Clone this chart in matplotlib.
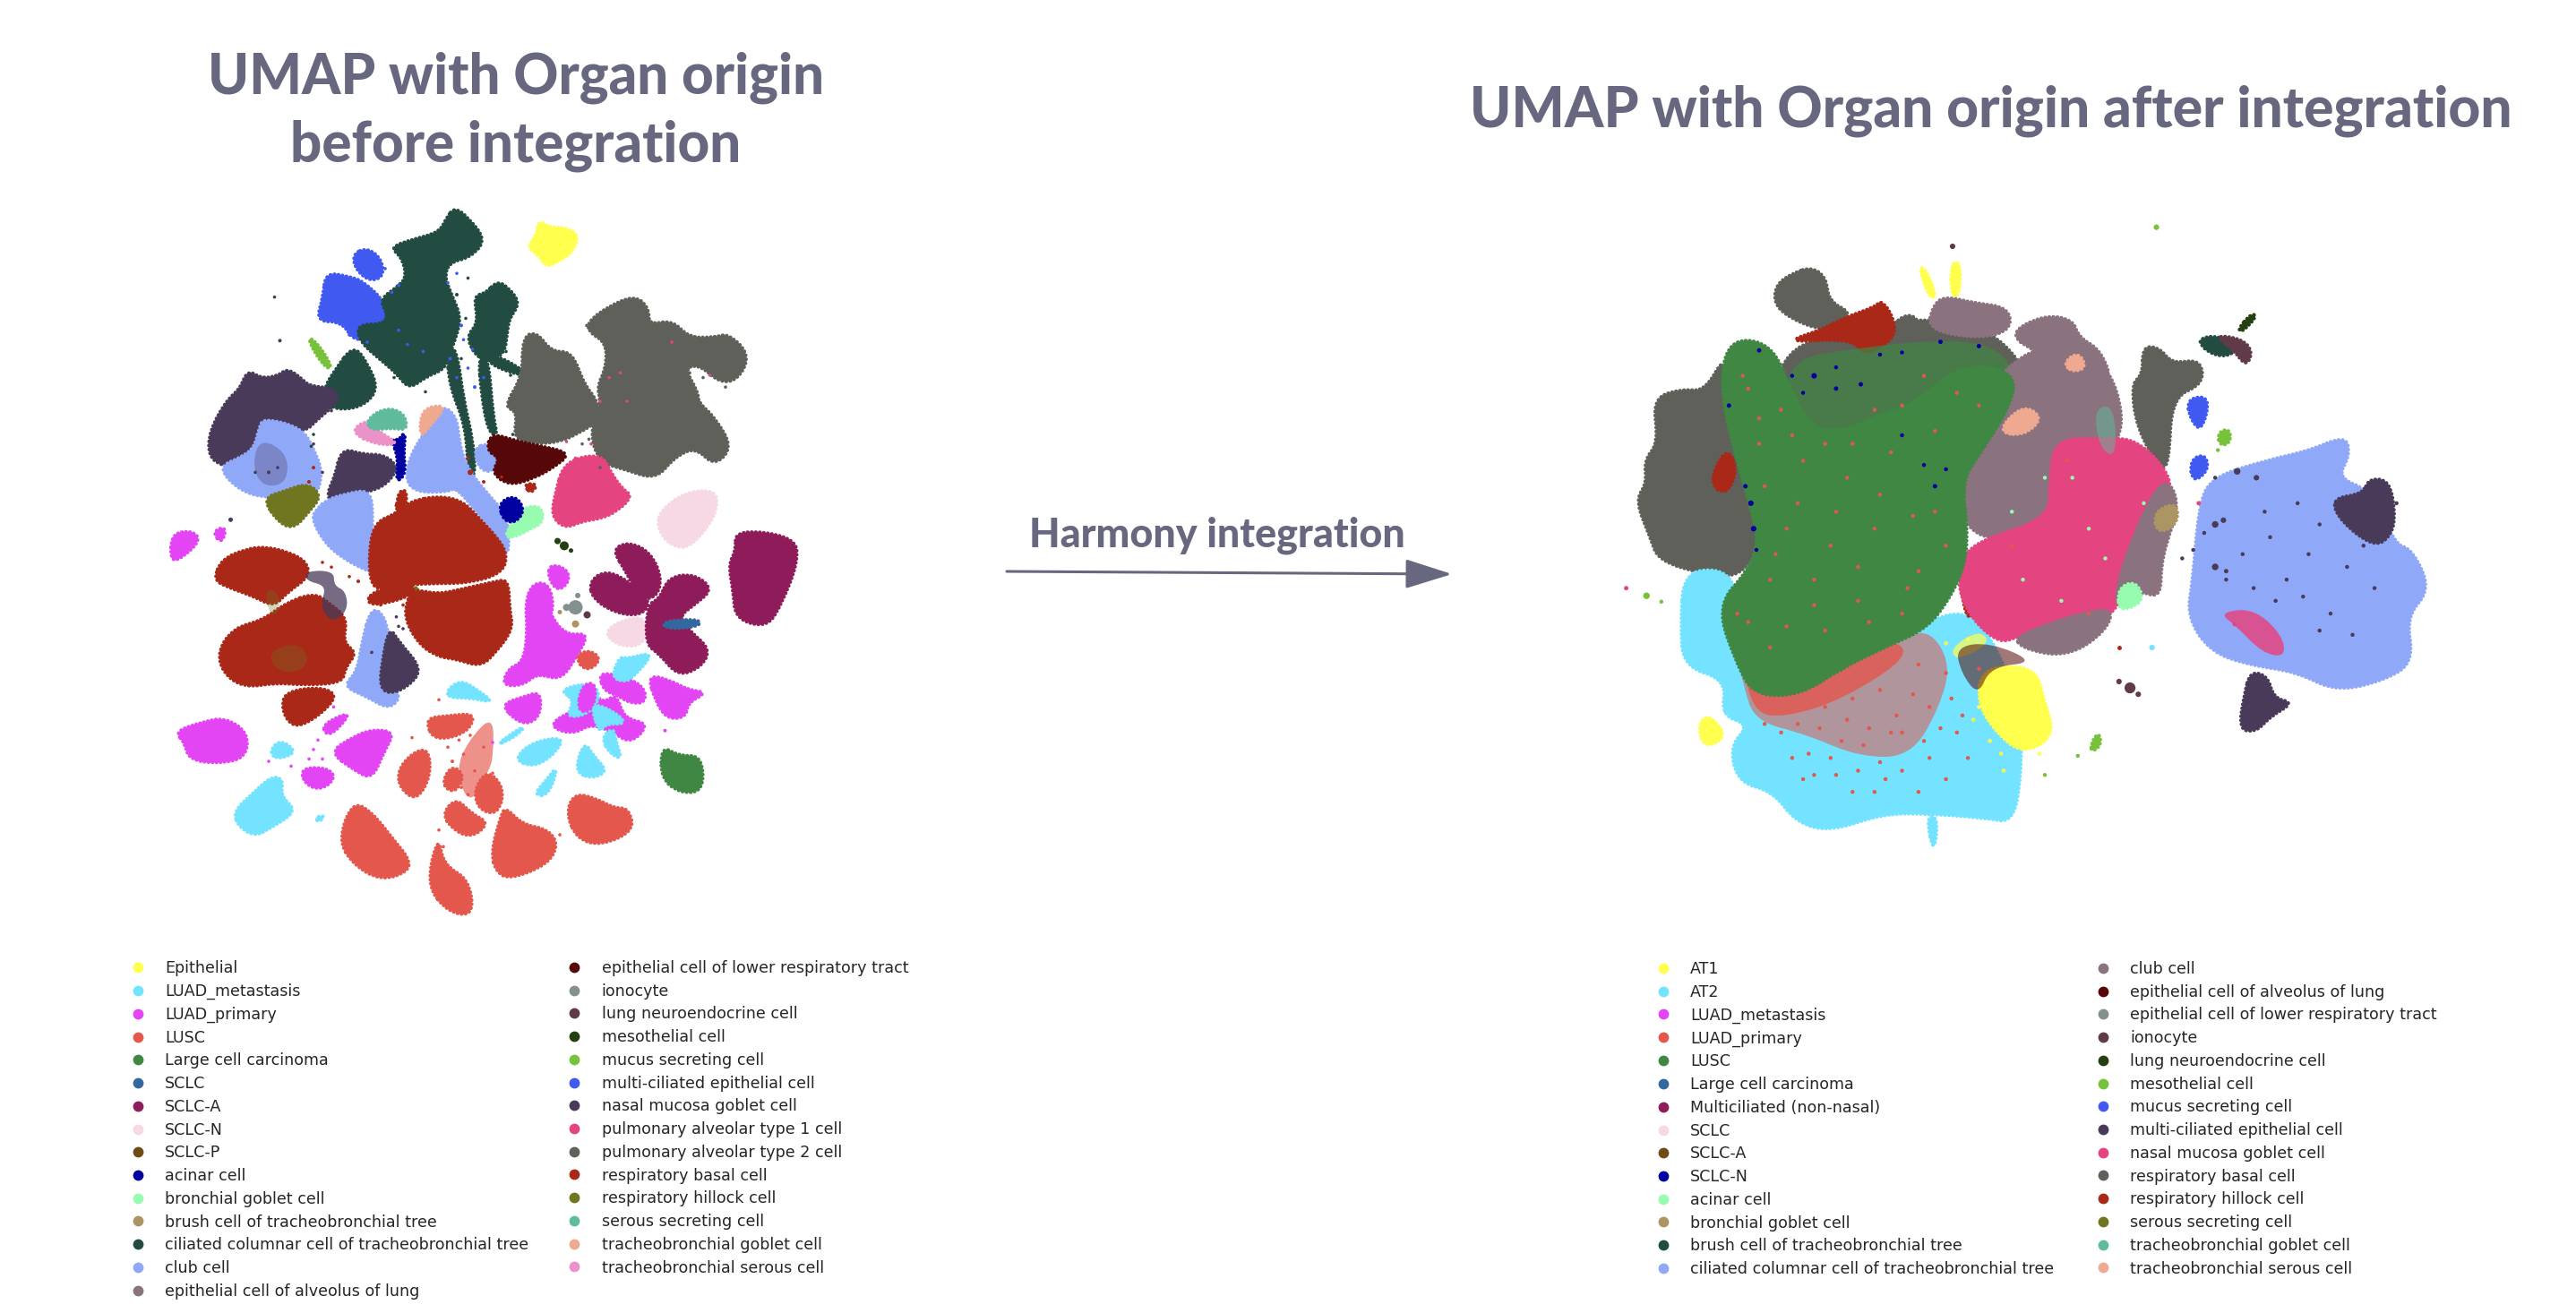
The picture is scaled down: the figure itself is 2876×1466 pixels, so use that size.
import matplotlib
matplotlib.use("Agg")
import matplotlib.pyplot as plt
from matplotlib.lines import Line2D
from matplotlib.patches import FancyArrowPatch, PathPatch
from matplotlib.path import Path

W, H, DPI = 2876, 1466, 100

legend_colors = ["#FFFF4D", "#73E3FF", "#E345F5", "#E4574C", "#3F8743", "#33689E", "#8E1B5A", "#F6D9E4",
                 "#6E4A14", "#0000A0", "#97FBB0", "#AD9463", "#224B41", "#90A8F8", "#8A727F", "#560808",
                 "#82918F", "#613A4A", "#254010", "#77C23A", "#4059F0", "#483A58", "#E4447F", "#5F6059",
                 "#A92818", "#707520", "#5FBB9C", "#EEA990", "#EB92C8"]
before_labels = ["Epithelial", "LUAD_metastasis", "LUAD_primary", "LUSC", "Large cell carcinoma", "SCLC", "SCLC-A",
                 "SCLC-N", "SCLC-P", "acinar cell", "bronchial goblet cell", "brush cell of tracheobronchial tree",
                 "ciliated columnar cell of tracheobronchial tree", "club cell", "epithelial cell of alveolus of lung",
                 "epithelial cell of lower respiratory tract", "ionocyte", "lung neuroendocrine cell",
                 "mesothelial cell", "mucus secreting cell", "multi-ciliated epithelial cell",
                 "nasal mucosa goblet cell", "pulmonary alveolar type 1 cell", "pulmonary alveolar type 2 cell",
                 "respiratory basal cell", "respiratory hillock cell", "serous secreting cell",
                 "tracheobronchial goblet cell", "tracheobronchial serous cell"]
after_labels = ["AT1", "AT2", "LUAD_metastasis", "LUAD_primary", "LUSC", "Large cell carcinoma",
                "Multiciliated (non-nasal)", "SCLC", "SCLC-A", "SCLC-N", "acinar cell", "bronchial goblet cell",
                "brush cell of tracheobronchial tree", "ciliated columnar cell of tracheobronchial tree", "club cell",
                "epithelial cell of alveolus of lung", "epithelial cell of lower respiratory tract", "ionocyte",
                "lung neuroendocrine cell", "mesothelial cell", "mucus secreting cell", "multi-ciliated epithelial cell",
                "nasal mucosa goblet cell", "respiratory basal cell", "respiratory hillock cell",
                "serous secreting cell", "tracheobronchial goblet cell", "tracheobronchial serous cell"]

# ---- before integration: cluster outlines (UMAP-like units) ----
b_epithelial = [[(905,70),(925,85),(960,85),(990,100),(975,135),(950,150),(920,165),(905,140),(880,125),(900,100)]]
b_ciliated = [[(712,50),(740,70),(778,115),(745,150),(700,160),(690,190),(705,225),(725,270),(715,310),(700,345),(690,375),
               (650,390),(615,415),(590,385),(560,360),(510,320),(505,285),(560,285),(570,265),(552,235),(590,210),(610,190),
               (600,150),(575,130),(620,115),(680,100),(695,70)],
              [(810,200),(835,215),(858,245),(835,275),(830,310),(825,345),(790,365),(760,345),(745,310),(770,285),(760,230),(785,225)],
              [(700,345),(720,345),(735,450),(755,530),(760,600),(745,600),(740,500),(705,420)],
              [(770,360),(790,360),(800,480),(810,520),(790,510),(775,430)],
              [(800,350),(870,385),(860,395),(790,370)],
              [(490,335),(520,375),(540,420),(520,450),(480,465),(435,460),(425,425),(450,385)]]
b_multicil = [[(520,128),(550,150),(555,185),(525,195),(495,170),(490,140)],
              [(430,182),(480,190),(510,200),(555,240),(570,285),(535,310),(490,320),(465,280),(410,280),(425,230)]]
b_mucus = [[(388,315),(410,330),(440,375),(430,380),(405,350)]]
b_nasal = [[(255,388),(285,405),(320,400),(340,385),(370,405),(385,420),(440,425),(450,450),(400,490),(380,510),(300,520),
            (260,590),(200,580),(172,560),(175,510),(210,450),(240,425)],
           [(465,552),(510,565),(555,565),(585,590),(560,625),(520,640),(470,650),(440,660),(435,640),(450,610)]]
b_club = [[(290,490),(370,510),(395,550),(415,600),(400,650),(340,640),(300,650),(250,640),(210,610),(200,585),(240,570),
           (270,550),(280,510)],
          [(435,660),(470,650),(525,640),(530,700),(525,760),(540,810),(510,800),(470,780),(430,750),(400,700),(410,680)],
          [(530,890),(560,910),(570,980),(550,1030),(580,1050),(590,1075),(565,1095),(520,1070),(470,1050),(500,1020),(510,960)],
          [(690,465),(720,490),(725,540),(740,590),(790,650),(830,690),(830,780),(800,720),(770,690),(720,630),(700,640),
           (630,640),(610,610),(625,560),(660,510)],
          [(790,540),(810,560),(800,600),(770,590),(760,550)]]
b_nasal_mix = [[(280,530),(340,560),(340,620),(290,630),(265,590)]]
b_nasal_top = [[(570,930),(590,960),(640,1015),(610,1050),(570,1065),(550,1050),(555,1000)]]
b_hillock = [[(290,655),(340,640),(385,625),(415,650),(390,680),(355,718),(320,700)],
             [(575,855),(630,842),(635,850),(590,862)]]
b_basal = [[(680,655),(730,665),(765,700),(800,735),(825,770),(815,810),(740,830),(660,830),(590,835),(540,845),(530,790),
            (540,710),(590,690),(620,665)],
           [(630,850),(680,860),(730,850),(800,835),(830,830),(832,890),(840,930),(800,980),(770,1005),(720,990),(680,985),
            (640,960),(610,910),(615,870)],
           [(200,785),(250,765),(290,760),(340,770),(380,790),(385,820),(340,850),(310,880),(270,860),(210,840),(182,825)],
           [(400,860),(430,880),(470,910),(460,960),(490,980),(465,1010),(460,1040),(380,1045),(320,1040),(250,1050),(205,1020),
            (195,975),(230,930),(290,915),(340,880)],
           [(340,1065),(410,1055),(450,1070),(420,1105),(370,1135),(345,1125),(332,1095)],
           [(540,850),(620,830),(620,860),(540,880),(520,870)],
           [(590,640),(610,640),(600,700),(585,690)],
           [(870,625),(900,625),(885,645)]]
b_hillock_mix = [[(300,980),(360,960),(390,990),(370,1020),(320,1020)], [(290,850),(320,850),(325,890),(305,905)]]
b_nasal_basal = [[(385,810),(445,810),(445,840),(470,850),(475,890),(440,915),(415,880),(430,840),(385,830)]]
b_primary = [[(85,730),(130,725),(145,745),(105,780),(82,785)], [(175,725),(205,715),(195,750)],
             [(930,795),(965,805),(970,830),(945,850),(925,820)],
             [(890,840),(925,840),(935,890),(925,900),(960,945),(1010,940),(985,985),(950,1035),(900,1020),(870,1045),(825,1045),
              (840,1010),(870,1000),(880,940),(875,880)],
             [(822,1090),(870,1075),(905,1065),(905,1110),(880,1130),(850,1120)],
             [(1040,1025),(1080,1030),(1135,1050),(1140,1085),(1105,1085),(1080,1070),(1050,1060)],
             [(1150,1030),(1195,1040),(1235,1060),(1275,1065),(1235,1085),(1230,1115),(1190,1118),(1165,1080)],
             [(945,1120),(1010,1095),(1020,1060),(1045,1090),(1075,1070),(1090,1120),(1145,1130),(1105,1170),(1065,1145),(1020,1130),
              (985,1150),(940,1140)],
             [(95,1148),(150,1130),(200,1120),(250,1150),(245,1200),(190,1212),(125,1205),(115,1170)],
             [(440,1190),(490,1160),(530,1145),(578,1150),(555,1190),(530,1245),(490,1225)],
             [(375,1225),(430,1225),(448,1245),(415,1270),(380,1255)],
             [(425,1130),(485,1105),(445,1150),(425,1150)]]
b_metastasis = [[(700,1060),(730,1040),(765,1060),(800,1085),(750,1075),(705,1075)],
                [(303,1190),(325,1165),(362,1190),(320,1205)],
                [(225,1315),(265,1280),(305,1245),(330,1250),(325,1285),(360,1315),(300,1350),(270,1365),(235,1345)],
                [(405,1328),(425,1325),(412,1338)],
                [(850,1205),(890,1170),(960,1160),(930,1200),(890,1220)],
                [(815,1170),(870,1135),(860,1150),(825,1170)],
                [(893,1280),(920,1250),(945,1220),(925,1280)],
                [(985,1230),(1005,1170),(1025,1200),(1055,1230),(1020,1245)],
                [(1045,1160),(1070,1140),(1075,1170),(1088,1205),(1060,1190)],
                [(950,1060),(1020,1045),(1040,1075),(1010,1110),(965,1115),(985,1080)],
                [(1068,1030),(1085,990),(1100,995),(1160,980),(1110,1035),(1090,1040)]]
b_primary_top = [[(1000,1050),(1030,1045),(1025,1100),(990,1105)], [(1065,1095),(1090,1100),(1085,1130)]]
b_metastasis_top = [[(1020,1090),(1060,1100),(1100,1130),(1050,1130),(1040,1150)]]
b_lusc = [[(460,1375),(490,1300),(530,1320),(580,1380),(610,1415),(608,1440),(550,1458),(490,1425)],
          [(800,1400),(820,1330),(830,1310),(865,1345),(920,1355),(942,1385),(920,1425),(840,1455),(810,1440)],
          [(968,1320),(985,1280),(1030,1290),(1070,1310),(1100,1310),(1112,1355),(1040,1385),(990,1370)],
          [(590,1230),(620,1195),(655,1185),(660,1240),(630,1290),(595,1265)],
          [(652,1120),(700,1115),(760,1110),(740,1150),(670,1165)],
          [(690,1320),(720,1290),(750,1320),(790,1340),(750,1370),(710,1350)],
          [(690,1250),(710,1220),(735,1240),(720,1270),(700,1270)],
          [(760,1270),(790,1230),(825,1270),(810,1320),(770,1310)],
          [(655,1470),(680,1370),(690,1430),(745,1460),(755,1532),(700,1525)],
          [(985,990),(1015,975),(1042,995),(1010,1020)]]
b_lusc_sparse = [[(745,1170),(800,1115),(800,1200),(790,1230),(750,1300),(720,1230)]]
b_large = [[(1180,1180),(1215,1200),(1265,1200),(1268,1270),(1220,1275),(1178,1245)]]
b_sclc_a = [[(1345,725),(1470,740),(1478,790),(1440,880),(1410,922),(1345,905),(1340,850),(1330,795),(1345,770)],
            [(1070,765),(1105,750),(1150,770),(1175,820),(1165,860),(1130,865),(1100,810)],
            [(1020,830),(1055,810),(1100,830),(1150,870),(1130,900),(1075,895),(1025,865)],
            [(1195,825),(1250,820),(1288,850),(1250,880),(1215,905),(1240,935),(1282,970),(1265,1005),(1215,1025),(1175,980),
             (1145,960),(1150,880),(1175,870)]]
b_sclc_n = [[(1180,680),(1230,645),(1295,640),(1298,680),(1270,725),(1230,760),(1190,745),(1170,710)],
            [(1050,940),(1085,915),(1140,905),(1140,960),(1090,968)]]
b_sclc = [[(1180,915),(1260,910),(1260,925),(1190,930)]]
b_type2 = [[(870,320),(900,310),(930,350),(975,350),(1000,415),(1030,450),(1030,490),(985,515),(950,530),(900,535),(850,525),
            (860,470),(830,460),(870,400)],
           [(1020,290),(1060,260),(1120,235),(1150,260),(1150,295),(1200,285),(1235,320),(1290,320),(1320,312),(1365,355),(1340,405),
            (1300,410),(1260,375),(1225,380),(1255,430),(1255,450),(1290,480),(1328,540),(1290,578),(1250,540),(1205,560),(1165,605),
            (1100,585),(1045,570),(1025,510),(1050,450),(1040,420),(1060,380),(1060,330),(1025,310)]]
b_lower = [[(800,520),(850,535),(900,545),(970,560),(930,590),(890,610),(840,625),(800,600),(820,570),(790,555)]]
b_type1 = [[(960,590),(1000,570),(1045,570),(1060,600),(1085,635),(1108,650),(1075,680),(1040,695),(1000,700),(965,715),(935,690),(945,640)]]
b_acinar = [[(815,665),(850,650),(870,680),(850,705),(825,700)],
            [(575,530),(590,535),(605,515),(600,560),(605,600),(585,620),(590,570)]]
b_bronchial = [[(860,680),(905,670),(912,705),(880,720),(850,735),(830,735),(840,715)]]
b_serous = [[(520,490),(560,465),(600,475),(608,510),(575,505),(530,510)]]
b_tserous = [[(485,515),(520,490),(545,515),(590,540),(540,540)]]
b_goblet = [[(640,480),(660,462),(695,462),(660,500),(640,525)]]

# small groups and scattered cells: (umap_1, umap_2, extent)
b_ionocyte = [(985,885,16),(990,860,6),(965,885,8)]
b_brush = [(985,920,8),(950,895,5)]
b_neuro = [(1010,900,8)]
b_meso = [(960,755,10),(945,745,7),(975,765,5)]
b_nasal_specks = [(215,700,5),(325,322,4),(313,230,3),(440,470,3),(455,640,3),(420,600,3),(400,540,3),(300,600,4),(320,590,3),
                  (270,600,3),(240,540,3),(530,980,3),(590,925,3),(585,905,3),(600,930,3)]
b_blue_specks = [(730,290,4),(755,340,3),(705,360,4),(760,420,4),(645,345,3),(590,205,4),(720,180,3),(560,170,3),(575,220,3),
                 (590,300,3),(720,400,3),(745,380,3),(780,400,3),(735,320,3),(480,310,3),(520,325,3),(610,330,3),(700,200,3)]
b_dark_specks = [(720,225,4),(745,190,3),(650,430,3),(740,275,3),(840,395,3),(830,345,3),(610,400,3),(395,545,3),(400,520,3),
                 (785,430,3),(730,360,3),(580,400,3),(845,520,3)]
b_red_specks = [(390,620,4),(400,590,4),(600,650,5),(750,600,6),(780,620,4),(880,630,5),(820,610,3),(500,830,4),(480,820,3),
                (530,870,4),(550,880,3),(600,880,3),(440,800,3),(420,790,3),(745,570,4),(585,670,4)]
b_gray_specks = [(1060,400,3),(1080,440,3),(1015,530,3),(1030,470,3),(1180,520,3),(1210,450,3),(1270,400,3),(1320,420,3),
                 (1240,390,3),(1010,290,3),(1040,590,3),(1170,290,3),(1000,540,3)]
b_pink_specks = [(1060,400,3),(1085,390,3),(1040,450,3),(965,535,3),(985,570,3),(1200,325,3),(1285,395,3),(1100,450,3),(1020,540,3)]
b_lusc_specks = [(710,1210,4),(735,1195,3),(700,1180,3),(725,1165,3),(750,1155,3),(745,1280,3),(730,1265,3),(760,1230,3),(800,1235,3),
                 (690,1390,3),(680,1355,3),(680,1080,3),(840,1320,3),(950,1365,3),(620,1160,3),(780,1180,3)]
b_magenta_specks = [(400,1185,3),(420,1205,3),(390,1205,3),(350,1220,3),(300,1210,3),(1185,1145,4),(445,1095,3),(410,1165,3),(800,1170,3)]


# ---- after integration ----
a_basal = [[(395,148),(420,170),(425,225),(465,250),(440,285),(400,285),(350,255),(330,225),(335,185),(365,160)],
           [(230,440),(280,420),(300,600),(290,800),(260,860),(200,855),(120,825),(105,770),(80,690),(100,650),(95,600),(120,560),
            (110,460),(160,440),(200,445),(235,365)],
           [(1000,335),(1030,340),(1050,375),(1100,365),(1105,420),(1050,450),(1045,600),(1030,610),(990,520),(980,420),(1000,400)],
           [(340,350),(470,300),(600,270),(720,300),(790,420),(720,640),(440,700),(340,580)],
           [(540,280),(580,250),(600,310),(540,320)]]
a_club_top = [[(620,235),(640,215),(690,230),(750,240),(755,290),(700,310),(610,290)],
              [(760,300),(820,260),(870,270),(880,310),(920,340),(940,420),(800,340)]]
a_metastasis = [[(175,880),(240,870),(270,920),(300,1200),(540,1040),(640,960),(700,1000),(760,1180),(760,1340),(745,1440),(700,1430),
                 (600,1420),(520,1420),(430,1460),(370,1440),(330,1370),(270,1350),(255,1270),(290,1220),(240,1200),(250,1120),(175,1090),(170,1000)],
                [(605,1440),(625,1440),(618,1525)]]
a_primary_thin = [[(270,1060),(340,1125),(460,1060),(540,1035),(600,1000),(640,1080),(620,1180),(570,1290),(480,1290),(390,1240),(300,1210),(280,1130)]]
a_primary = [[(275,1070),(330,1120),(450,1060),(530,1020),(570,1060),(450,1160),(350,1200),(295,1190)]]
a_green_thin = [[(350,370),(480,340),(640,320),(730,340),(770,430),(680,600),(440,660),(370,590)]]
a_club = [[(680,500),(780,350),(870,340),(940,400),(960,560),(860,600),(830,760),(700,780),(665,680)]]
a_nasal = [[(840,560),(920,560),(980,560),(1040,640),(1035,700),(960,850),(950,950),(870,990),(780,1000),(740,1020),(680,940),(670,850),
            (700,790),(830,740),(830,650)]]
a_club_right = [[(1030,640),(1065,700),(1030,830),(1030,920),(990,900),(950,950),(960,850)],
                [(770,1010),(940,940),(930,1000),(860,1060),(780,1040)]]
a_bronchial = [[(955,900),(985,885),(1000,930),(955,955)]]
a_tserous = [[(735,530),(780,470),(815,500),(780,540)], [(855,370),(880,345),(895,380),(870,390)]]
a_teal = [[(910,480),(945,470),(950,590),(920,570)]]
a_tan = [[(1020,720),(1060,700),(1060,750),(1025,770)]]
a_green = [[(255,330),(330,340),(365,450),(400,530),(450,540),(520,500),(570,480),(610,440),(650,400),(710,390),(755,420),(740,490),(690,590),
            (660,650),(670,760),(665,840),(640,910),(600,980),(530,1020),(450,1070),(380,1130),(300,1130),(270,1060),(235,930),(290,850),(310,780),
            (280,650),(240,450)]]
a_yellow = [[(710,1090),(800,1090),(815,1160),(835,1245),(780,1285),(735,1240),(700,1170)],
            [(190,1220),(210,1200),(240,1250),(200,1275)],
            [(592,148),(602,148),(622,210),(610,215)],
            [(650,135),(666,135),(664,210),(650,210)]]
a_yellow_mix = [[(650,1040),(700,1000),(720,1030),(660,1070)]]
a_alveolus = [[(660,1040),(720,1030),(800,1075),(720,1085),(700,1150),(670,1100)]]
a_hillock = [[(455,265),(510,240),(520,225),(540,260),(545,310),(490,350),(470,310),(350,320),(420,290)],
             [(210,650),(240,570),(260,620),(240,680)],
             [(665,870),(680,880),(690,970),(675,960)]]
a_cilcol = [[(1365,555),(1372,600),(1350,650),(1410,680),(1450,800),(1480,810),(1512,900),(1470,960),(1482,1060),(1440,1100),(1350,1130),
             (1280,1085),(1200,1070),(1130,1040),(1090,960),(1100,880),(1110,720),(1130,650),(1230,610),(1300,590)]]
a_multicil = [[(1410,645),(1445,650),(1455,720),(1450,770),(1420,800),(1360,740),(1345,690),(1400,680)],
              [(1195,1100),(1225,1110),(1235,1160),(1270,1170),(1230,1200),(1205,1235),(1175,1230),(1185,1150)]]
a_nasal_right = [[(1140,960),(1200,950),(1250,1010),(1255,1060),(1215,1050),(1170,990)]]
a_mucus = [[(1080,455),(1120,450),(1105,530),(1085,500)], [(1085,600),(1110,585),(1118,620),(1090,650)]]
a_brush = [[(1095,315),(1140,305),(1170,345),(1130,355)]]
a_ionocyte = [[(1130,305),(1180,315),(1197,345),(1185,375),(1165,340)]]
a_neuro = [[(1195,255),(1205,260),(1180,295),(1172,290)]]
a_meso = [[(1135,535),(1155,525),(1158,555),(1140,565)], [(905,1265),(918,1240),(922,1270),(905,1285)]]

a_small_meso = [(1023,50,5),(95,918,6),(820,1340,3),(122,932,3),(880,1295,3),(1135,575,3)]
a_small_nasal = [(58,900,4),(1100,700,4),(1165,985,3)]
a_small_gray = [(652,95,5),(975,1135,10),(955,1120,5),(990,1150,5)]
a_small_hillock = [(955,1040,4)]
a_small_cyan = [(1015,1040,5),(240,1190,5)]
a_acinar = [(285,700,5),(290,760,5),(245,470,4),(400,400,5),(440,430,4),(485,420,4),(630,320,4),(700,330,4),(620,660,4),
            (560,540,3),(300,340,4),(275,660,4),(295,810,3),(520,350,3),(360,400,3),(380,440,3),(440,380,3),(560,345,3),(640,620,3),(600,610,3)]
a_primary_specks = [(300,560,3),(380,600,3),(460,640,3),(540,580,3),(620,720,3),(350,760,3),(430,800,3),(510,760,3),(590,860,3),(320,880,3),
                    (400,940,3),(480,930,3),(560,960,3),(620,530,3),(700,470,3),(280,430,3),(420,560,3),(510,480,3),(600,400,3),(340,480,3),
                    (450,1260,3),(520,1310,3),(390,1290,3),(600,1260,3),(650,1160,3),(560,1330,3),(480,1330,3),(340,1240,3),(610,1180,3),
                    (420,1180,3),(700,1090,3),(470,1380,3),(540,1240,3),(430,1300,3),(590,1080,3),(860,600,3),(900,960,3),(760,800,3),
                    (310,660,3),(370,700,3),(440,720,3),(520,680,3),(580,730,3),(640,800,3),(280,980,3),(350,990,3),(420,1000,3),(500,980,3),
                    (570,900,3),(480,850,3),(400,880,3),(330,820,3),(300,500,3),(270,400,3),(660,440,3),(560,470,3),(470,560,3),(360,540,3),
                    (640,1350,3),(680,1300,3),(590,1380,3),(400,1340,3),(360,1300,3),(510,1380,3),(660,1240,3),(320,1040,3),(260,960,3),
                    (500,1230,3),(460,1210,3),(550,1200,3),(580,1150,3),(640,1100,3),(520,1140,3),(470,1160,3),(410,1230,3),(370,1220,3),
                    (310,1220,3),(560,1240,3),(610,1300,3),(490,1270,3),(440,1340,3),(530,1350,3),(380,1350,3),(670,1200,3),(630,1230,3)]
a_dark_specks = [(1230,780,3),(1300,820,3),(1370,850,3),(1280,700,3),(1180,820,3),(1340,960,3),(1420,900,3),(1150,880,3),(1260,880,3),(1320,1000,3),
                 (1220,720,3),(1400,800,3),(1090,810,3),(1290,920,3),(1130,640,3),(1130,750,6),(1130,850,6),(1170,625,6),(1205,640,5),(1145,740,5),
                 (1350,700,4),(1320,750,3),(1240,930,3),(1380,1010,3),(1110,770,3),(1070,830,3),(1150,860,4),(1200,900,3),(1460,700,3)]
a_mint_specks = [(820,640,3),(900,760,3),(780,880,3),(850,930,3),(930,830,3),(1000,700,3),(760,720,3),(870,640,3)]
a_yellow_specks = [(700,1180,3),(690,1210,3),(720,1260,3),(745,1330,3),(740,1290,3),(760,1100,3),(680,1020,3),(640,1030,3),(810,1290,3)]


def smooth_path(outline, grow=1.05):
    cx = sum(p[0] for p in outline) / len(outline)
    cy = sum(p[1] for p in outline) / len(outline)
    pts = [(cx + (p[0] - cx) * grow, cy + (p[1] - cy) * grow) for p in outline]
    mids = [((pts[i][0] + pts[(i + 1) % len(pts)][0]) / 2, (pts[i][1] + pts[(i + 1) % len(pts)][1]) / 2)
            for i in range(len(pts))]
    verts, codes = [mids[-1]], [Path.MOVETO]
    for i, p in enumerate(pts):
        verts += [p, mids[i]]
        codes += [Path.CURVE3, Path.CURVE3]
    return Path(verts, codes)


def draw(ax, layers, x_lim, y_lim, box):
    left, top, width, height = box
    ax.set_position([left / W, 1 - (top + height) / H, width / W, height / H])
    ax.set_xlim(*x_lim)
    ax.set_ylim(*y_lim)
    ax.axis("off")
    px = width / (x_lim[1] - x_lim[0])
    for z, (items, idx, alpha, kind) in enumerate(layers):
        col = legend_colors[idx]
        if kind == "shape":
            for outline in items:
                path = smooth_path(outline)
                ax.add_patch(PathPatch(path, facecolor=col, edgecolor="none", alpha=alpha, zorder=z))
                if alpha == 1:
                    ax.add_patch(PathPatch(path, facecolor="none", edgecolor=col, lw=3.2, ls=(0, (0.01, 1.0)),
                                           capstyle="round", zorder=z))
        else:
            xs = [p[0] for p in items]
            ys = [p[1] for p in items]
            sizes = [(2 * max(p[2], 3.6) * px * 72 / DPI) ** 2 for p in items]
            ax.scatter(xs, ys, s=sizes, color=col, alpha=alpha, linewidths=0, zorder=z)


fig = plt.figure(figsize=(W / DPI, H / DPI), dpi=DPI, facecolor="white")
ax1 = fig.add_axes([0, 0, 1, 1])
ax2 = fig.add_axes([0, 0, 1, 1])

before_layers = [(b_multicil, 20, 1, "shape"), (b_mucus, 19, 1, "shape"), (b_ciliated, 12, 1, "shape"), (b_nasal, 21, 1, "shape"),
                 (b_club, 13, 1, "shape"), (b_nasal_mix, 21, 0.3, "shape"), (b_nasal_top, 21, 1, "shape"), (b_hillock, 25, 1, "shape"),
                 (b_basal, 24, 1, "shape"), (b_hillock_mix, 25, 0.3, "shape"), (b_nasal_basal, 21, 0.75, "shape"), (b_primary, 2, 1, "shape"),
                 (b_metastasis, 1, 1, "shape"), (b_primary_top, 2, 1, "shape"), (b_metastasis_top, 1, 1, "shape"), (b_lusc, 3, 1, "shape"),
                 (b_lusc_sparse, 3, 0.65, "shape"), (b_large, 4, 1, "shape"), (b_sclc_n, 7, 1, "shape"), (b_sclc_a, 6, 1, "shape"),
                 (b_sclc, 5, 1, "shape"), (b_type2, 23, 1, "shape"), (b_type1, 22, 1, "shape"), (b_lower, 15, 1, "shape"),
                 (b_bronchial, 10, 1, "shape"), (b_acinar, 9, 1, "shape"), (b_tserous, 28, 1, "shape"), (b_serous, 26, 1, "shape"),
                 (b_goblet, 27, 1, "shape"), (b_epithelial, 0, 1, "shape"), (b_ionocyte, 16, 1, "pts"), (b_brush, 11, 1, "pts"),
                 (b_neuro, 17, 1, "pts"), (b_meso, 18, 1, "pts"), (b_nasal_specks, 21, 1, "pts"), (b_blue_specks, 20, 1, "pts"),
                 (b_dark_specks, 12, 1, "pts"), (b_red_specks, 24, 1, "pts"), (b_gray_specks, 23, 1, "pts"), (b_pink_specks, 22, 1, "pts"),
                 (b_lusc_specks, 3, 1, "pts"), (b_magenta_specks, 2, 1, "pts")]
draw(ax1, before_layers, (0, 1560), (1569, 0), (150, 210, 780, 830))

after_layers = [(a_basal, 23, 1, "shape"), (a_club_top, 14, 1, "shape"), (a_metastasis, 1, 1, "shape"), (a_hillock, 24, 1, "shape"),
                (a_primary_thin, 3, 0.55, "shape"), (a_primary, 3, 0.8, "shape"), (a_cilcol, 13, 1, "shape"), (a_green_thin, 4, 0.7, "shape"),
                (a_club, 14, 1, "shape"), (a_nasal, 22, 1, "shape"), (a_club_right, 14, 1, "shape"), (a_tserous, 27, 1, "shape"),
                (a_teal, 26, 0.5, "shape"), (a_bronchial, 10, 1, "shape"), (a_tan, 11, 1, "shape"), (a_green, 4, 1, "shape"),
                (a_yellow, 0, 1, "shape"), (a_yellow_mix, 0, 0.7, "shape"), (a_alveolus, 15, 0.55, "shape"), (a_multicil, 21, 1, "shape"),
                (a_nasal_right, 22, 0.85, "shape"), (a_mucus, 20, 1, "shape"), (a_brush, 12, 1, "shape"), (a_ionocyte, 17, 1, "shape"),
                (a_neuro, 18, 1, "shape"), (a_meso, 19, 1, "shape"), (a_small_meso, 19, 1, "pts"), (a_small_nasal, 22, 1, "pts"),
                (a_small_gray, 17, 1, "pts"), (a_small_hillock, 24, 1, "pts"), (a_small_cyan, 1, 1, "pts"), (a_acinar, 9, 1, "pts"),
                (a_primary_specks, 3, 1, "pts"), (a_dark_specks, 21, 1, "pts"), (a_mint_specks, 10, 1, "pts"), (a_yellow_specks, 0, 1, "pts")]
draw(ax2, after_layers, (0, 1565), (1561, 0), (1780, 230, 960, 740))


def legend(ax, labels, colors, x, y, column_gap):
    handles = [Line2D([], [], ls="", marker="o", ms=8.5, mfc=c, mec="none", label=l) for l, c in zip(labels, colors)]
    return ax.legend(handles=handles, ncol=2, frameon=False, fontsize=12.6, labelcolor="#262626", loc="upper left",
                     bbox_to_anchor=(x / W, 1 - y / H), bbox_transform=fig.transFigure, labelspacing=0.442,
                     columnspacing=column_gap, handletextpad=1.15, borderaxespad=0, borderpad=0, handlelength=1.2)


legend(ax1, before_labels, legend_colors[:29], 143, 1072, 2.3)
legend(ax2, after_labels, legend_colors[:28], 1846, 1073, 2.5)

title_color = "#67677F"
title_kw = dict(ha="center", va="center", family="Lato", weight="black", color=title_color)
fig.text(576 / W, 1 - 87 / H, "UMAP with Organ origin", fontsize=44.6, **title_kw)
fig.text(576 / W, 1 - 163 / H, "before integration", fontsize=44.6, **title_kw)
fig.text(2223 / W, 1 - 124 / H, "UMAP with Organ origin after integration", fontsize=44.8, **title_kw)
fig.text(1359 / W, 1 - 598 / H, "Harmony integration", fontsize=32.3, **title_kw)
fig.add_artist(FancyArrowPatch((1124 / W, 1 - 638 / H), (1621 / W, 1 - 641 / H), transform=fig.transFigure,
                               arrowstyle="-|>,head_length=0.95,head_width=0.3", mutation_scale=34, lw=2.2,
                               color=title_color, shrinkA=0, shrinkB=0))

fig.savefig("out.png", dpi=DPI)
